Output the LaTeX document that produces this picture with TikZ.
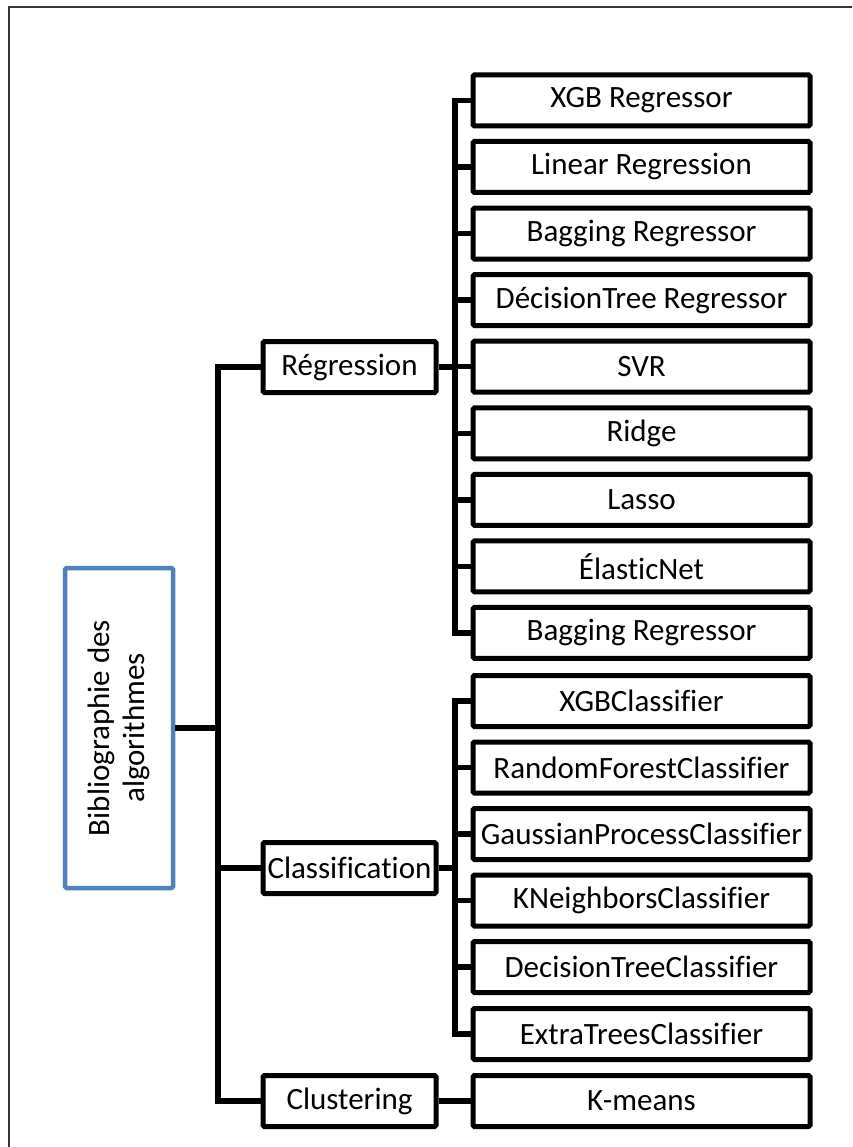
\documentclass[tikz,border=0pt]{standalone}
\usepackage{fontspec}
\setmainfont{Carlito}[Ligatures=NoCommon]
\usetikzlibrary{calc}

\definecolor{officeblue}{HTML}{4F81BD}

\tikzset{
  leaf/.style={draw=black, line width=5pt, rounded corners=1.5pt, fill=white,
    minimum width=337pt, minimum height=51pt, inner sep=0pt,
    font=\fontsize{31}{36}\selectfont},
  branch/.style={leaf, minimum width=173pt},
  rootbox/.style={draw=officeblue, line width=4.5pt, rounded corners=1.5pt,
    minimum width=108pt, minimum height=320pt, inner sep=0pt},
  conn/.style={draw=black, line width=5.5pt},
  frameline/.style={draw=black!80, line width=2pt}
}

\begin{document}
\begin{tikzpicture}[x=1pt, y=-1pt]
  \useasboundingbox (0,0) rectangle (852,1147);
  \clip (0,0) rectangle (852,1147);

  % page frame (only its left and top edges fall inside the picture)
  \draw[frameline] (9,1200) -- (9,7) -- (900,7);

  % root
  \node[rootbox] (bib) at (119,728) {};
  \node[rotate=90, align=center, font=\fontsize{31}{35}\selectfont] (bibtext) at (bib.center)
    {Bibliographie des\\algorithmes};

  % main branches
  \node[branch] (reg) at (349.5,367) {Régression};
  \node[branch] (cls) at (349.5,868) {Classification};
  \node[branch] (clu) at (349.5,1101) {Clustering};

  % regression leaves
  \node[leaf] (r1) at (641.5,100.5) {XGB Regressor};
  \node[leaf] (r2) at (641.5,167.0) {Linear Regression};
  \node[leaf] (r3) at (641.5,233.6) {Bagging Regressor};
  \node[leaf] (r4) at (641.5,300.2) {DécisionTree Regressor};
  \node[leaf] (r5) at (641.5,366.7) {SVR};
  \node[leaf] (r6) at (641.5,433.3) {Ridge};
  \node[leaf] (r7) at (641.5,499.8) {Lasso};
  \node[leaf] (r8) at (641.5,566.4) {ÉlasticNet};
  \node[leaf] (r9) at (641.5,632.9) {Bagging Regressor};

  % classification leaves
  \node[leaf] (c1) at (641.5,701.0) {XGBClassifier};
  \node[leaf] (c2) at (641.5,767.5) {RandomForestClassifier};
  \node[leaf] (c3) at (641.5,834.0) {GaussianProcessClassifier};
  \node[leaf] (c4) at (641.5,900.5) {KNeighborsClassifier};
  \node[leaf] (c5) at (641.5,967.0) {DecisionTreeClassifier};
  \node[leaf] (c6) at (641.5,1034.0) {ExtraTreesClassifier};

  % clustering leaf
  \node[leaf] (k1) at (641.5,1101) {K-means};

  % trunk lines
  \coordinate (T) at (218,0);
  \coordinate (S) at (455,0);

  \draw[conn] (reg.west) -- (reg.west -| T) -- (clu.west -| T) -- (clu.west);
  \draw[conn] (cls.west) -- (cls.west -| T);
  \draw[conn] (bib.east) -- (bib.east -| T);

  % regression sub-trunk
  \draw[conn] (r1.west) -- (r1.west -| S) -- (r9.west -| S) -- (r9.west);
  \foreach \n in {r2,r3,r4,r5,r6,r7,r8}
    \draw[conn] (\n.west) -- (\n.west -| S);
  \draw[conn] (reg.east) -- (reg.east -| S);

  % classification sub-trunk
  \draw[conn] (c1.west) -- (c1.west -| S) -- (c6.west -| S) -- (c6.west);
  \foreach \n in {c2,c3,c4,c5}
    \draw[conn] (\n.west) -- (\n.west -| S);
  \draw[conn] (cls.east) -- (cls.east -| S);

  % clustering
  \draw[conn] (clu.east) -- (k1.west);
\end{tikzpicture}
\end{document}
